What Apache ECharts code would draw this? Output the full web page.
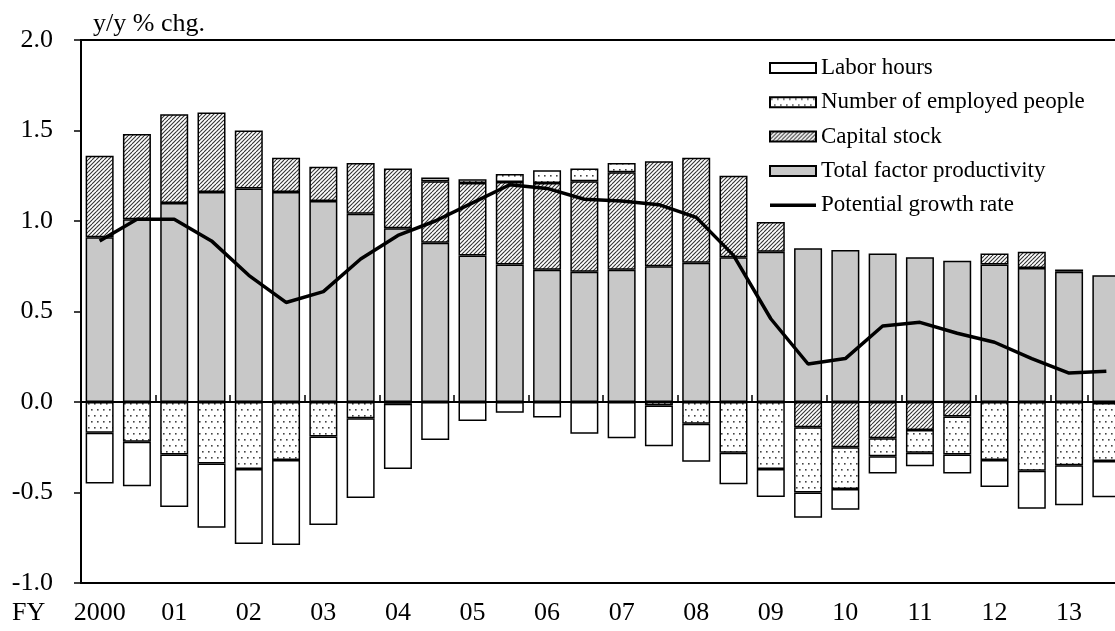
<!DOCTYPE html>
<html>
<head>
<meta charset="utf-8">
<script src="https://cdn.jsdelivr.net/npm/echarts@6/dist/echarts.min.js"></script>
<style>
html,body{margin:0;padding:0;background:#fff;overflow:hidden;}
#chart{width:1115px;height:631px;}
</style>
</head>
<body>
<div id="chart"></div>
<script>
// ---- data ----
const categories = [
  '2000H1','2000H2','2001H1','2001H2','2002H1','2002H2','2003H1','2003H2',
  '2004H1','2004H2','2005H1','2005H2','2006H1','2006H2','2007H1','2007H2',
  '2008H1','2008H2','2009H1','2009H2','2010H1','2010H2','2011H1','2011H2',
  '2012H1','2012H2','2013H1','2013H2'
];
const tickLabels = ['2000','01','02','03','04','05','06','07','08','09','10','11','12','13'];
const tfp       = [0.91,1.01,1.10,1.16,1.18,1.16,1.11,1.04,0.96,0.88,0.81,0.76,0.73,0.72,0.73,0.75,0.77,0.80,0.83,0.85,0.84,0.82,0.80,0.78,0.76,0.74,0.72,0.70];
const capital   = [0.45,0.47,0.49,0.44,0.32,0.19,0.19,0.28,0.33,0.34,0.40,0.455,0.48,0.50,0.54,0.58,0.58,0.45,0.165,-0.14,-0.25,-0.20,-0.155,-0.08,0.06,0.09,0.012,-0.006];
const employed  = [-0.17,-0.22,-0.29,-0.34,-0.37,-0.32,-0.19,-0.09,-0.01,0.02,0.02,0.045,0.07,0.07,0.05,-0.02,-0.12,-0.28,-0.37,-0.36,-0.23,-0.10,-0.125,-0.21,-0.32,-0.38,-0.35,-0.32];
const labor     = [-0.28,-0.245,-0.29,-0.355,-0.415,-0.47,-0.49,-0.44,-0.36,-0.21,-0.105,-0.06,-0.085,-0.175,-0.20,-0.225,-0.21,-0.175,-0.155,-0.14,-0.115,-0.095,-0.075,-0.105,-0.15,-0.21,-0.22,-0.20];
const potential = [0.89,1.01,1.01,0.89,0.70,0.55,0.61,0.79,0.92,1.00,1.10,1.20,1.18,1.12,1.11,1.09,1.02,0.81,0.46,0.21,0.24,0.42,0.44,0.38,0.33,0.24,0.16,0.17];

// ---- patterns ----
function hatch() {
  const c = document.createElement('canvas');
  c.width = 8; c.height = 8;
  const g = c.getContext('2d');
  g.fillStyle = '#fff'; g.fillRect(0,0,8,8);
  g.strokeStyle = '#333'; g.lineWidth = 1.1;
  for (let k = -8; k <= 8; k += 4) {
    g.beginPath(); g.moveTo(k, 8); g.lineTo(k + 8, 0); g.stroke();
  }
  return c;
}
function dots() {
  const c = document.createElement('canvas');
  c.width = 12; c.height = 12;
  const g = c.getContext('2d');
  g.fillStyle = '#fff'; g.fillRect(0,0,12,12);
  g.fillStyle = '#444';
  [[1,1],[7,1],[4,7],[10,7]].forEach(p => g.fillRect(p[0], p[1], 1.6, 1.6));
  return c;
}
const hatchPat = {image: hatch(), repeat: 'repeat'};
const dotPat = {image: dots(), repeat: 'repeat'};

const FONT = "'Liberation Serif', 'Times New Roman', serif";
const border = {borderColor: '#000', borderWidth: 1.5};

const chart = echarts.init(document.getElementById('chart'), null, {renderer: 'canvas'});
chart.setOption({
  animation: false,
  backgroundColor: '#fff',
  textStyle: {fontFamily: FONT, color: '#000'},
  grid: {left: 81, top: 40, height: 543, width: 1044, outerBoundsMode: 'none', containLabel: false,
    show: true, borderColor: '#000', borderWidth: 2, backgroundColor: 'transparent'},
  graphic: [
    {type: 'text', left: 93, top: 11, style: {text: 'y/y % chg.', font: '26px ' + FONT, fill: '#000'}},
    {type: 'text', left: 12, top: 600, style: {text: 'FY', font: '26px ' + FONT, fill: '#000'}}
  ],
  legend: {
    orient: 'vertical', left: 769, top: 56, padding: 0, itemWidth: 46, itemHeight: 10, itemGap: 10.3,
    icon: 'rect',
    textStyle: {fontFamily: FONT, fontSize: 23, color: '#000', lineHeight: 24},
    data: [
      {name: 'Labor hours', icon: 'rect'},
      {name: 'Number of employed people', icon: 'rect'},
      {name: 'Capital stock', icon: 'rect'},
      {name: 'Total factor productivity', icon: 'rect'},
      {name: 'Potential growth rate', icon: 'path://M0,0 L46,0 L46,3.5 L0,3.5 Z', itemStyle: {color: '#000'}}
    ]
  },
  xAxis: {
    type: 'category', data: categories, boundaryGap: true,
    axisLine: {show: true, lineStyle: {color: '#000', width: 2}},
    axisTick: {show: true, inside: true, length: 7, interval: 1, lineStyle: {color: '#000', width: 1.5}},
    axisLabel: {interval: 0, margin: 17, fontSize: 26, fontFamily: FONT, color: '#000',
      formatter: (v, i) => (i % 2 === 0 ? tickLabels[i / 2] : '')},
    splitLine: {show: false}
  },
  yAxis: {
    type: 'value', min: -1, max: 2, interval: 0.5,
    axisLine: {show: true, lineStyle: {color: '#000', width: 2}},
    axisTick: {show: true, inside: false, length: 7, lineStyle: {color: '#000', width: 1.5}},
    axisLabel: {margin: 28, fontSize: 26, fontFamily: FONT, color: '#000', formatter: v => v.toFixed(1)},
    splitLine: {show: false}
  },
  series: [
    {name: 'Total factor productivity', type: 'bar', stack: 'a', barWidth: 28, data: tfp,
      itemStyle: Object.assign({color: '#c8c8c8'}, border),
      markLine: {silent: true, symbol: ['none', 'none'], label: {show: false},
        lineStyle: {color: '#000', width: 1.5, type: 'solid'}, data: [{yAxis: 0}]}},
    {name: 'Capital stock', type: 'bar', stack: 'a', barWidth: 28, data: capital,
      itemStyle: Object.assign({color: hatchPat}, border)},
    {name: 'Number of employed people', type: 'bar', stack: 'a', barWidth: 28, data: employed,
      itemStyle: Object.assign({color: dotPat}, border)},
    {name: 'Labor hours', type: 'bar', stack: 'a', barWidth: 28, data: labor,
      itemStyle: Object.assign({color: '#fff'}, border)},
    {name: 'Potential growth rate', type: 'line', data: potential, symbol: 'none', z: 5,
      lineStyle: {color: '#000', width: 3.5}, itemStyle: {color: '#000'}}
  ]
});
</script>
</body>
</html>
